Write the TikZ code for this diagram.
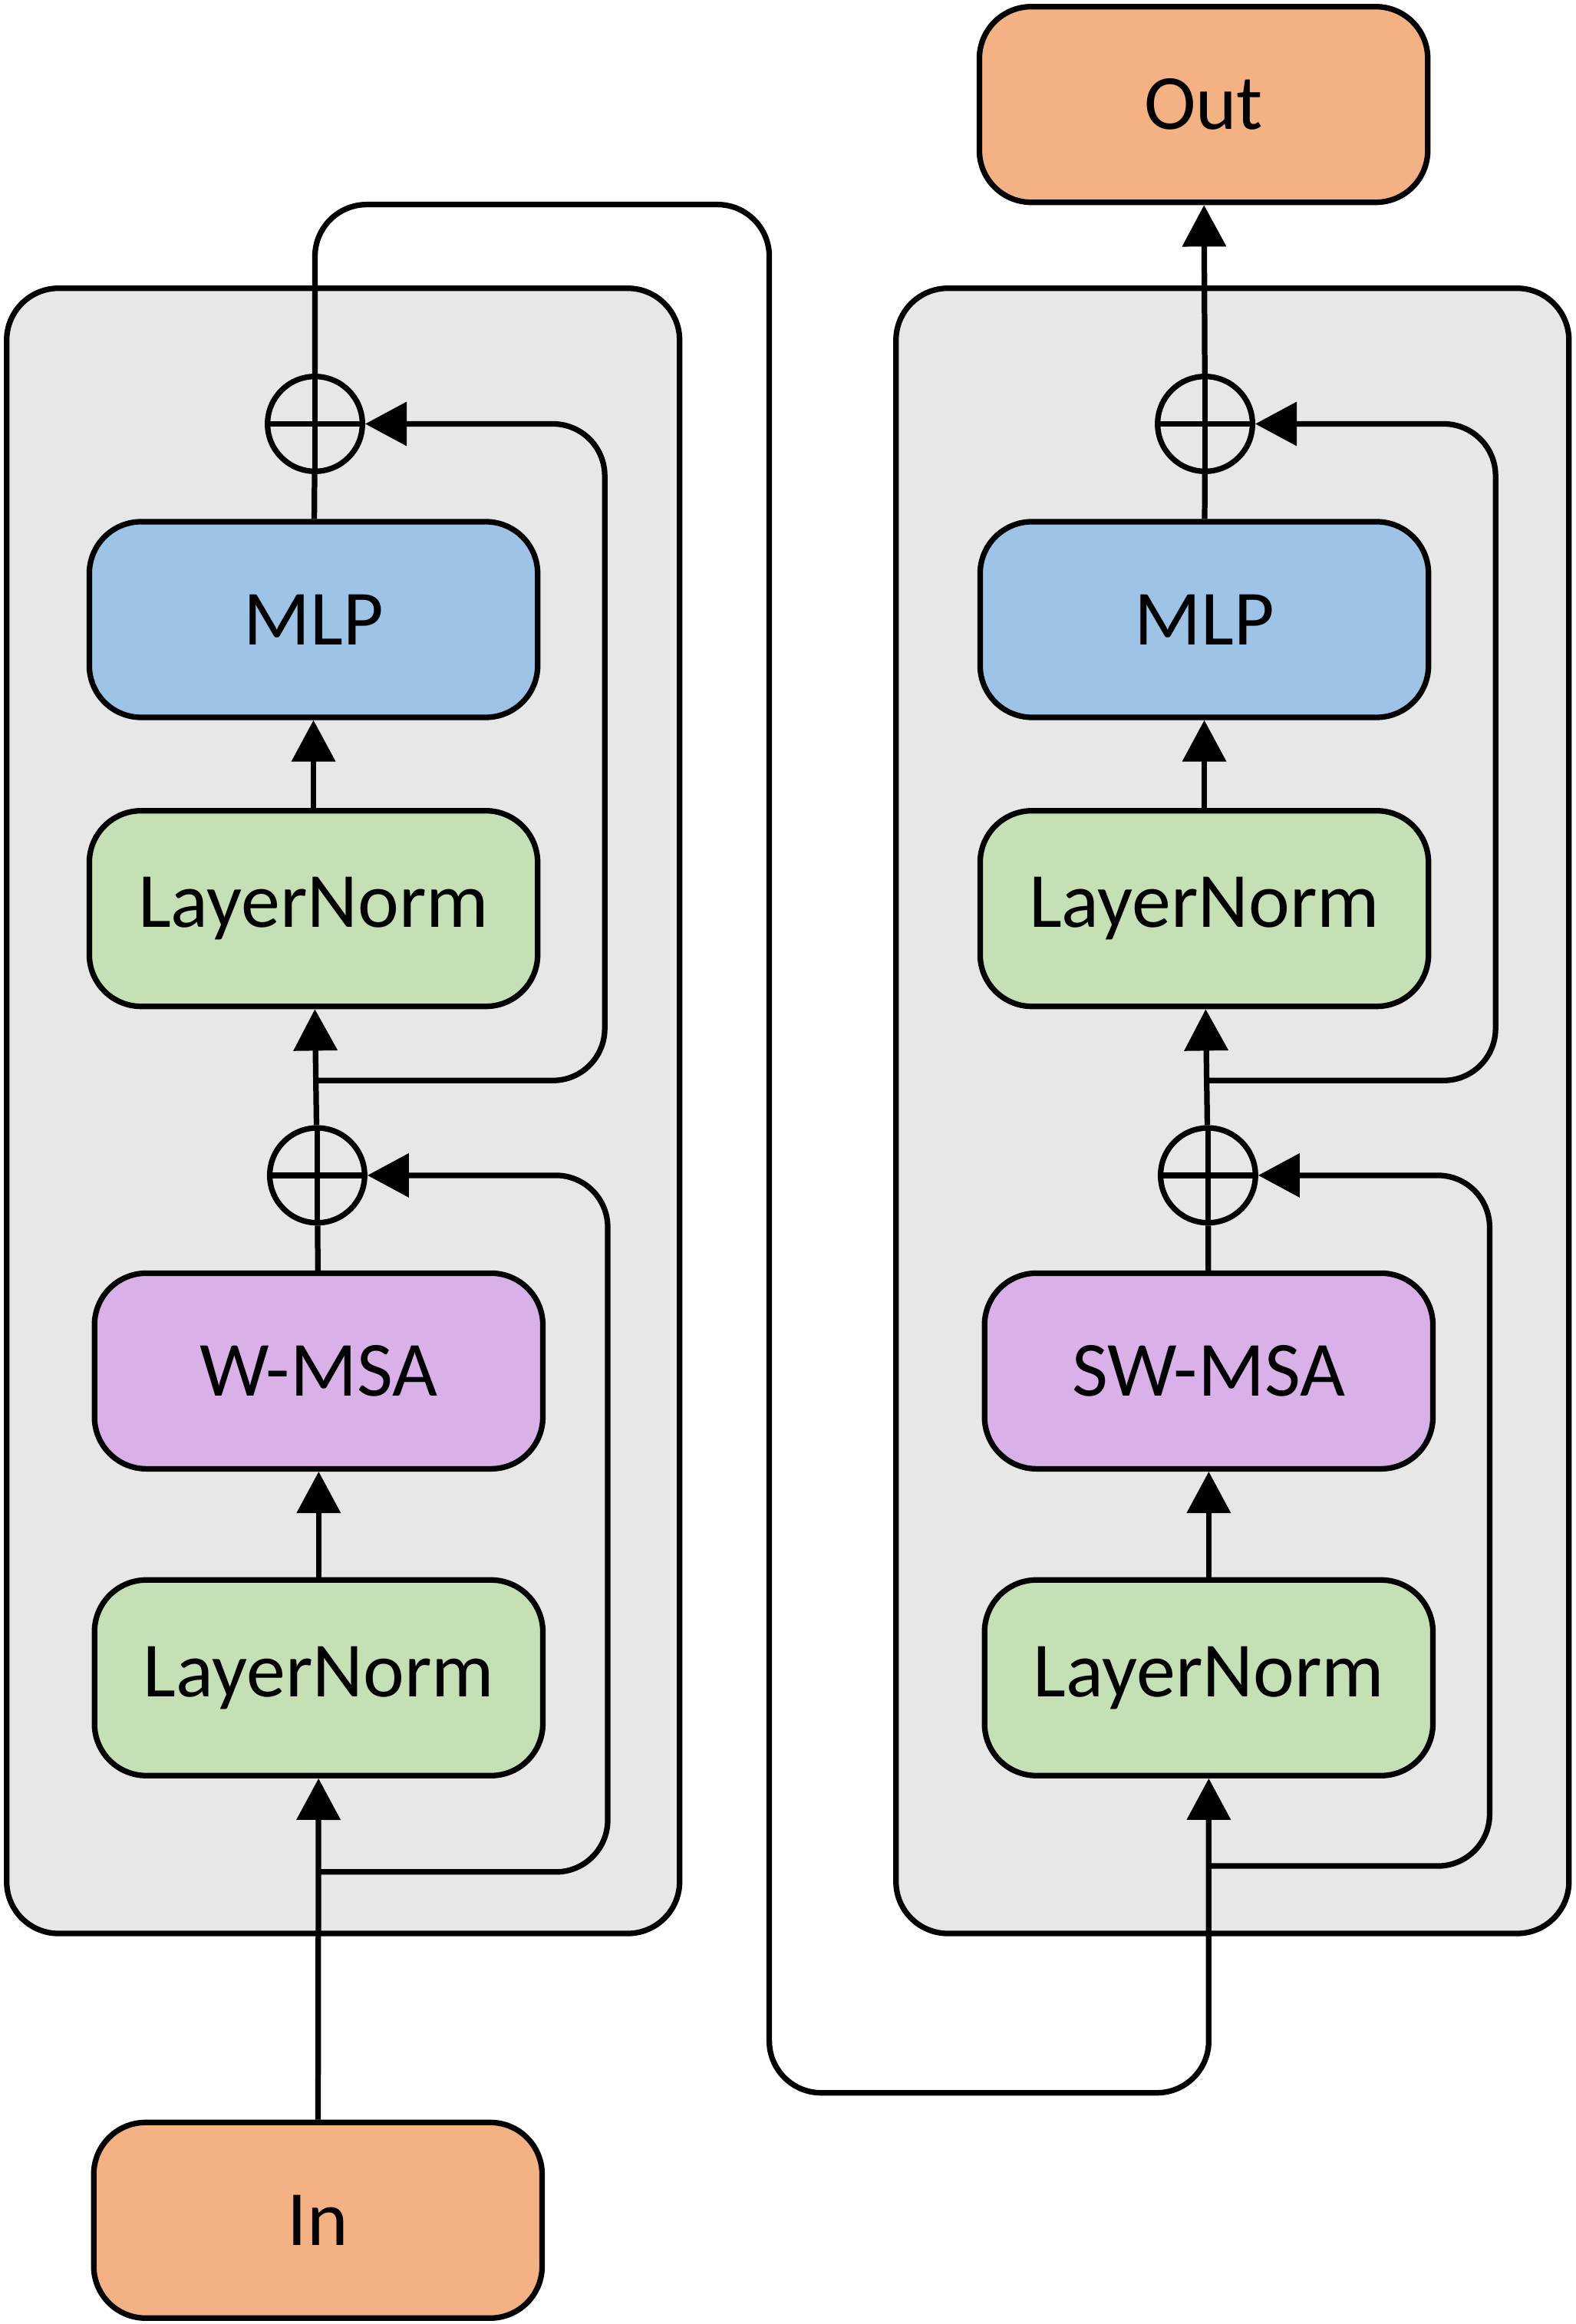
\documentclass[tikz,border=0pt]{standalone}
\usepackage{fontspec}
\setmainfont{Carlito}
\usetikzlibrary{arrows.meta}
\definecolor{panelgray}{HTML}{E7E7E7}
\definecolor{mlpblue}{HTML}{9DC3E6}
\definecolor{normgreen}{HTML}{C5E0B4}
\definecolor{attpurple}{HTML}{D9B1E8}
\definecolor{ioorange}{HTML}{F4B183}
\begin{document}
\begin{tikzpicture}[x=0.2mm, y=-0.2mm,
  block/.style={draw, line width=0.75mm, rounded corners=7mm, minimum width=60.5mm, minimum height=26.4mm, inner sep=0pt, font=\fontsize{30}{36}\selectfont},
  panel/.style={draw, line width=0.75mm, fill=panelgray, rounded corners=7mm, minimum width=90.8mm, minimum height=222mm, inner sep=0pt},
  addnode/.style={draw, circle, line width=0.75mm, minimum size=12.8mm, inner sep=0pt,
    path picture={\draw[line width=0.75mm] (path picture bounding box.west) -- (path picture bounding box.east)
      (path picture bounding box.north) -- (path picture bounding box.south);}},
  wire/.style={line width=0.75mm},
  tip/.style={wire, -{Triangle[length=5.6mm, width=5.8mm]}}]
\path[use as bounding box] (0,0) rectangle (1063,1568);

\node[panel] (pa) at (231.5,749.5) {};
\node[panel] (pb) at (831.5,749.5) {};

\node[block, fill=ioorange] (in) at (214.5,1498) {In};
\node[block, fill=ioorange] (out) at (812,70.5) {Out};

\node[block, fill=normgreen] (ln1a) at (215,1132) {LayerNorm};
\node[block, fill=attpurple] (atta) at (215,925) {W-MSA};
\node[addnode] (add1a) at (214,793) {};
\node[block, fill=normgreen] (ln2a) at (211.5,613) {LayerNorm};
\node[block, fill=mlpblue] (mlpa) at (211.5,418) {MLP};
\node[addnode] (add2a) at (212.5,286) {};

\node[block, fill=normgreen] (ln1b) at (815.5,1132) {LayerNorm};
\node[block, fill=attpurple] (attb) at (815.5,925) {SW-MSA};
\node[addnode] (add1b) at (815,793) {};
\node[block, fill=normgreen] (ln2b) at (812.5,613) {LayerNorm};
\node[block, fill=mlpblue] (mlpb) at (812.5,418) {MLP};
\node[addnode] (add2b) at (813,286) {};

\coordinate (s1a) at (215.5,1263);
\coordinate (s2a) at (213.5,729);
\coordinate (s1b) at (817.5,1259);
\coordinate (s2b) at (814,729);

% left block
\draw[tip] (in) -- (ln1a);
\draw[tip] (ln1a) -- (atta);
\draw[wire] (atta) -- (add1a);
\draw[tip] (add1a) -- (ln2a);
\draw[tip] (ln2a) -- (mlpa);
\draw[wire] (mlpa) -- (add2a);
\draw[tip, rounded corners=7mm] (s1a) -| (410,793) -- (add1a.east);
\draw[tip, rounded corners=7mm] (s2a) -| (408,286) -- (add2a.east);

% between the blocks
\draw[tip, rounded corners=7mm] (add2a.north) |- (519,138) -- (519,1412) -| (ln1b.south);

% right block
\draw[tip] (ln1b) -- (attb);
\draw[wire] (attb) -- (add1b);
\draw[tip] (add1b) -- (ln2b);
\draw[tip] (ln2b) -- (mlpb);
\draw[wire] (mlpb) -- (add2b);
\draw[tip] (add2b) -- (out);
\draw[tip, rounded corners=7mm] (s1b) -| (1005,793) -- (add1b.east);
\draw[tip, rounded corners=7mm] (s2b) -| (1009,286) -- (add2b.east);
\end{tikzpicture}
\end{document}
